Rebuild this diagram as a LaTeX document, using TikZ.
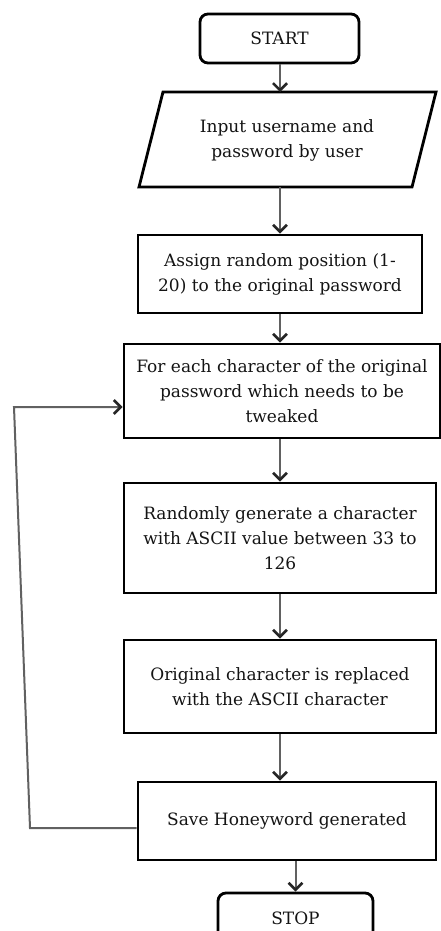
\documentclass[tikz,border=0pt]{standalone}
\usepackage{fontspec}
\setmainfont{DejaVu Serif}
\usetikzlibrary{arrows.meta}
\begin{document}
\begin{tikzpicture}[x=1pt,y=1pt,
  txt/.style={align=center,inner sep=0pt,font=\fontsize{17}{25}\selectfont,text=black!92},
  box/.style={txt,draw=black,line width=2.8pt,fill=white},
  term/.style={box,rounded corners=8pt},
  conn/.style={draw=black!62,line width=2pt,
    -{Straight Barb[length=7pt,width=14pt,line width=2.6pt,color=black!85]}}]
\useasboundingbox (0,0) rectangle (441,-931);
\fill[white] (0,0) rectangle (441,-931);
\begin{scope}
\clip (0,0) rectangle (441,-931);
\node[term,minimum width=159pt,minimum height=49pt] (start) at (279.5,-38.5) {START};
% parallelogram
\draw[line width=2.8pt,line join=miter] (163,-92) -- (436,-92) -- (412,-187) -- (139,-187) -- cycle;
\node[txt] (input) at (287,-140.5) {Input username and\\password by user};
\coordinate (intop) at (280,-92);
\coordinate (inbot) at (280,-187);
\node[box,minimum width=284pt,minimum height=78pt] (assign) at (280,-274) {Assign random position (1-\\20) to the original password};
\node[box,minimum width=316pt,minimum height=94pt] (each) at (282,-391) {For each character of the original\\password which needs to be\\tweaked};
\node[box,minimum width=312pt,minimum height=110pt] (gen) at (280,-538) {Randomly generate a character\\with ASCII value between 33 to\\126};
\node[box,minimum width=312pt,minimum height=93pt] (repl) at (280,-686.5) {Original character is replaced\\with the ASCII character};
\node[box,minimum width=298pt,minimum height=78pt] (save) at (287,-821) {Save Honeyword generated};
\node[term,minimum width=155pt,minimum height=50pt] (stop) at (295.5,-918) {STOP};
\end{scope}
\draw[conn] (start.south -| intop) -- (intop);
\draw[conn] (inbot) -- (inbot |- assign.north);
\draw[conn] (assign.south -| inbot) -- (inbot |- each.north);
\draw[conn] (each.south -| inbot) -- (inbot |- gen.north);
\draw[conn] (gen.south -| inbot) -- (inbot |- repl.north);
\draw[conn] (repl.south -| inbot) -- (inbot |- save.north);
\draw[conn] (save.south -| stop.north) -- (stop.north);
\coordinate (l1) at (30,-828);
\coordinate (l2) at (14,-407);
\draw[conn] (save.west |- l1) -- (l1) -- (l2) -- (each.west |- l2);
\end{tikzpicture}
\end{document}
